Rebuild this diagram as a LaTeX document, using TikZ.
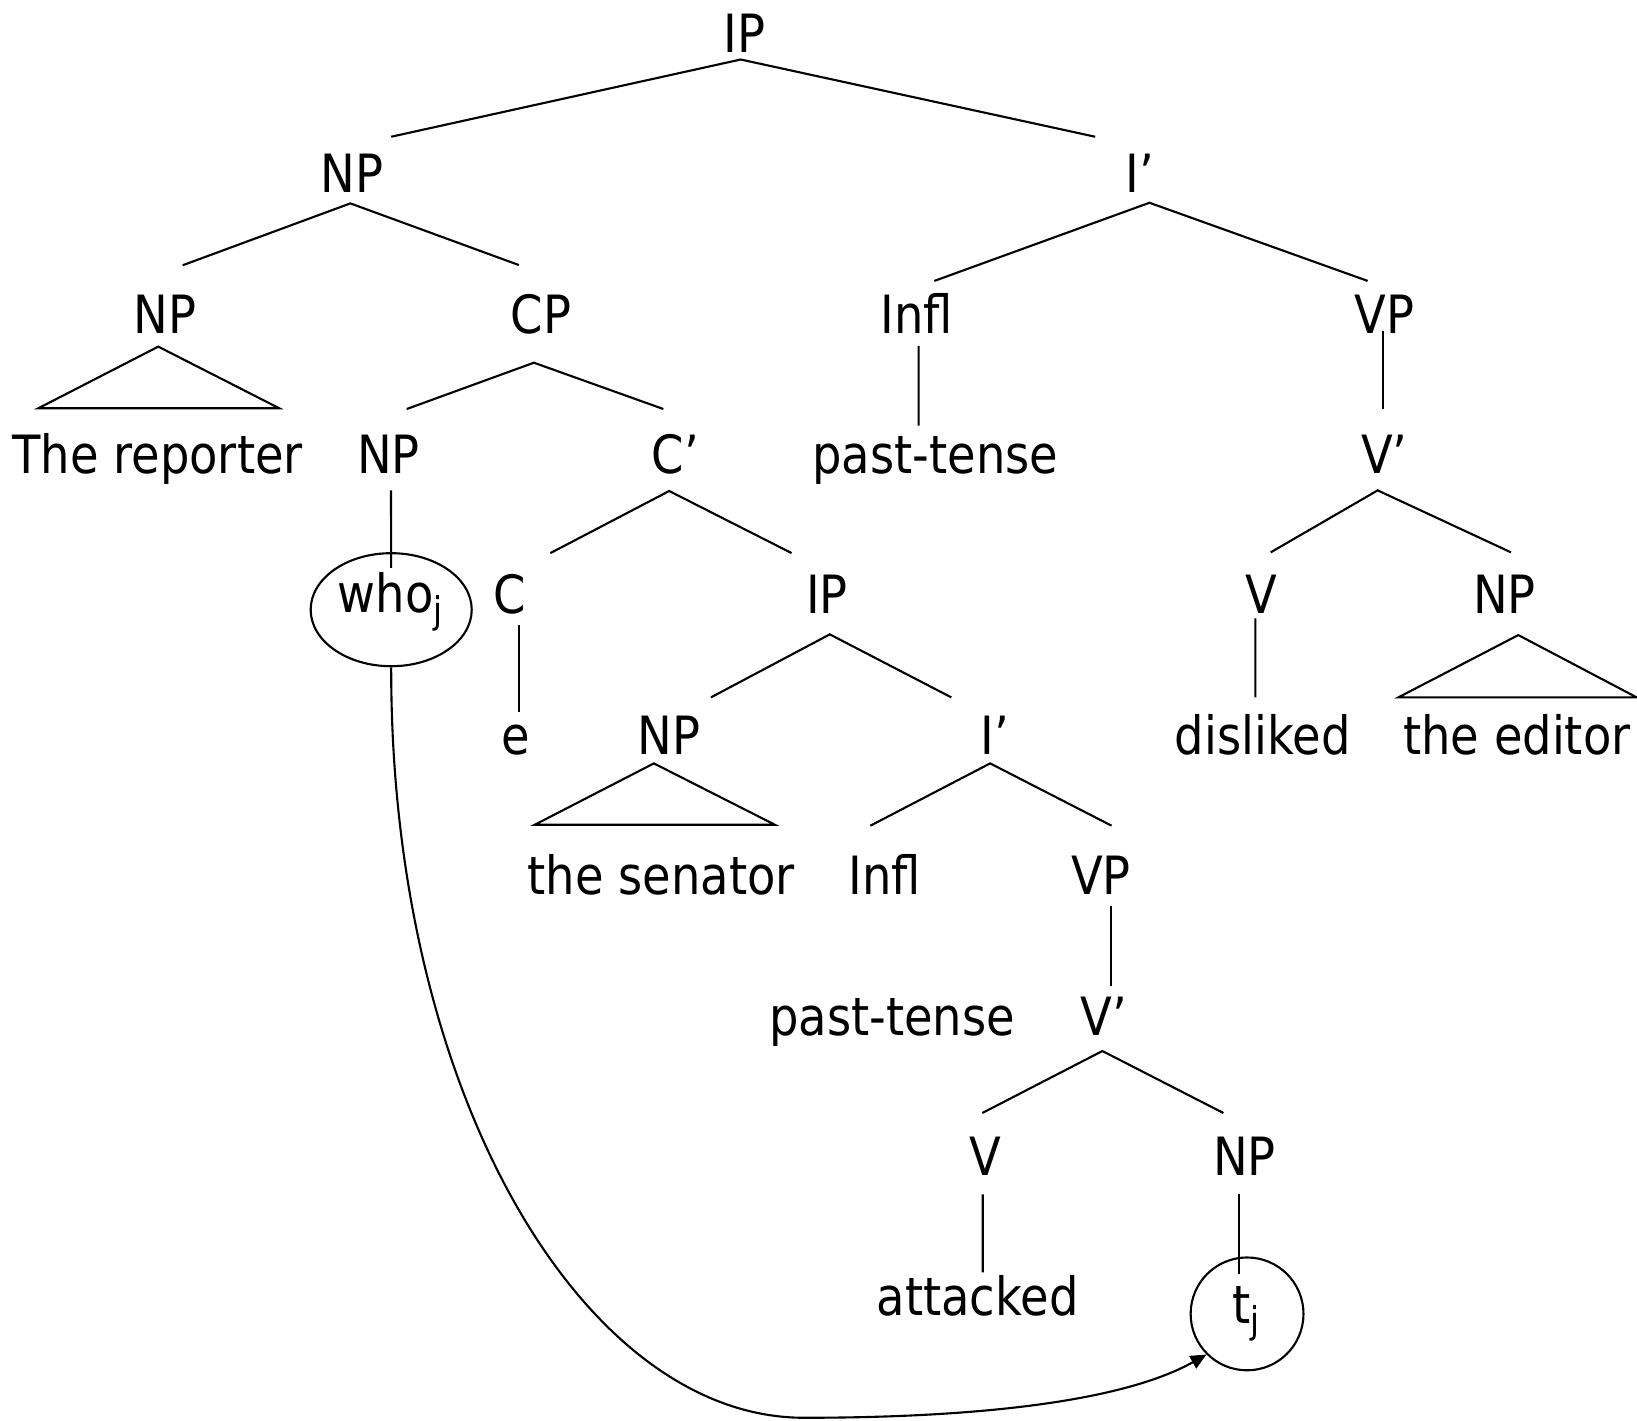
\documentclass[tikz,border=0pt]{standalone}
\usepackage{fontspec}
\setmainfont[FakeStretch=0.88]{DejaVu Sans}
\usetikzlibrary{calc,shapes.geometric,arrows.meta}
\tikzset{
	lab/.style={anchor=base, inner sep=0pt, text height=0.38cm, text depth=0pt, font=\fontsize{15pt}{18pt}\selectfont},
	ring/.style={draw, inner sep=0pt, font=\fontsize{15pt}{18pt}\selectfont},
}
\begin{document}
\begin{tikzpicture}[x=0.01044cm, y=-0.01044cm, semithick]
		\useasboundingbox (0,0) rectangle (1568,1361);
		%%%%% LABELS %%%%%
		\node[lab] (ip) at (713,50) {IP};
		
		\node[lab] (npa) at (337,184.5) {NP};
		\node[lab] (ibara) at (1092,184.5) {I’};
		
		\node[lab] (npb) at (158,319) {NP};
		\node[lab] (cp) at (518,319) {CP};
		\node[lab] (infla) at (878,319) {Infl};
		\node[lab] (vpa) at (1326,319) {VP};
		
		\node[lab] (rep) at (151,454) {The reporter};
		\node[lab] (npc) at (372,454) {NP};
		\node[lab] (cbar) at (647,454) {C’};
		\node[lab] (pta) at (896,454) {past-tense};
		\node[lab] (vbara) at (1326,454) {V’};
		
		\node[ring, ellipse, minimum width=1.61cm, minimum height=1.13cm] (who) at (374.7,584) {\raisebox{-0.9pt}[0pt][0pt]{who\textsubscript{j}}};
		\node[lab] (c) at (488,588) {C};
		\node[lab] (ipb) at (792,588) {IP};
		\node[lab] (va) at (1208,588) {V};
		\node[lab] (npd) at (1441,588) {NP};
		
		\node[lab] (e) at (494,722.5) {e};
		\node[lab] (npe) at (641,722.5) {NP};
		\node[lab] (ibarb) at (953,722.5) {I’};
		\node[lab] (disl) at (1209.5,722.5) {disliked};
		\node[lab] (edt) at (1453,722.5) {the editor};
		
		\node[lab] (sen) at (633.5,857) {the senator};
		\node[lab] (inflb) at (847.5,857) {Infl};
		\node[lab] (vpb) at (1054.5,857) {VP};
		
		\node[lab] (ptb) at (854.5,991.5) {past-tense};
		\node[lab] (vbarb) at (1057.5,991.5) {V’};
		
		\node[lab] (vb) at (944,1126) {V};
		\node[lab] (npf) at (1192,1126) {NP};
		
		\node[lab] (att) at (936.5,1260.5) {attacked};
		\node[ring, circle, minimum size=1.128cm] (tj) at (1194.5,1258.5) {\raisebox{-2.7pt}[0pt][0pt]{t\textsubscript{j}}};
		
		%%%%% BRANCHES %%%%%
		\draw ($(npa.north)+(37.7,-16.1)$) -- ($(ip.south)+(-3.5,6)$) -- ($(ibara.north)+(-43,-16.1)$);
		\draw ($(npb.north)+(17,-27.5)$) -- ($(npa.south)+(-1.4,9.3)$) -- ($(cp.north)+(-21,-27.7)$);
		\draw ($(infla.north)+(17,-12.5)$) -- ($(ibara.south)+(9,8.7)$) -- ($(vpa.north)+(-16,-12.5)$);
		
		\draw ($(npb.south)+(-6.4,12)$) -- ($(rep.north)+(-114.3,-25.5)$) -- ($(rep.north)+(116.5,-25.5)$) -- cycle;
		\draw ($(npc.north)+(17.6,-24.8)$) -- ($(cp.south)+(-6.6,27.4)$) -- ($(cbar.north)+(-11.6,-24.8)$);
		\draw ($(infla.south)+(1.9,11.5)$) -- ($(pta.north)+(-16.1,-8.8)$);
		\draw ($(vpa.south)+(-1,-3)$) -- ($(vbara.north)+(-1,-24.8)$);
		
		\draw ($(npc.south)+(2.5,14.7)$) -- ($(who.north)+(0,15)$);
		\draw ($(c.north)+(39.2,-20.8)$) -- ($(cbar.south)+(-6,15.3)$) -- ($(ipb.north)+(-33.8,-20.8)$);
		\draw ($(va.north)+(9.1,-21.5)$) -- ($(vbara.south)+(-6.4,14.7)$) -- ($(npd.north)+(6.3,-21.5)$);
		
		\draw ($(c.south)+(9.2,9.7)$) -- ($(e.north)+(3.2,-2.7)$);
		\draw ($(npe.north)+(40,-17.1)$) -- ($(ipb.south)+(2.8,18.6)$) -- ($(ibarb.north)+(-41.8,-17.1)$);
		\draw ($(va.south)+(-5.6,3.3)$) -- ($(disl.north)+(-7.1,-17.1)$);
		\draw ($(npd.south)+(13.3,19.3)$) -- ($(edt.north)+(-113.6,-17.1)$) -- ($(edt.north)+(114.7,-17.1)$) -- cycle;
		
		\draw ($(npe.south)+(-14.7,7.7)$) -- ($(sen.north)+(-121.3,-29.6)$) -- ($(sen.north)+(108.7,-29.6)$) -- cycle;
		\draw ($(inflb.north)+(-13.8,-28.7)$) -- ($(ibarb.south)+(-4.6,7.7)$) -- ($(vpb.north)+(10.2,-28.7)$);
		
		\draw ($(vpb.south)+(9.3,9.8)$) -- ($(vbarb.north)+(6.3,-9.9)$);
		\draw ($(vb.north)+(-3.1,-22.5)$) -- ($(vbarb.south)+(-1.6,14.2)$) -- ($(npf.north)+(-20.2,-22.5)$);
		
		\draw ($(vb.south)+(-2.7,17)$) -- ($(att.north)+(4.8,-4.4)$);
		\draw ($(npf.south)+(-5.2,17)$) -- ($(tj.north)+(-7.7,16.5)$);
		
		%%%%% MOVEMENT %%%%%
		\draw[-{Triangle[length=4.5pt,width=4pt]}] (who.south) .. controls (374,1050) and (560,1358) .. (770,1358) .. controls (950,1358) and (1080,1340) .. (tj.south west);
	\end{tikzpicture}
\end{document}
